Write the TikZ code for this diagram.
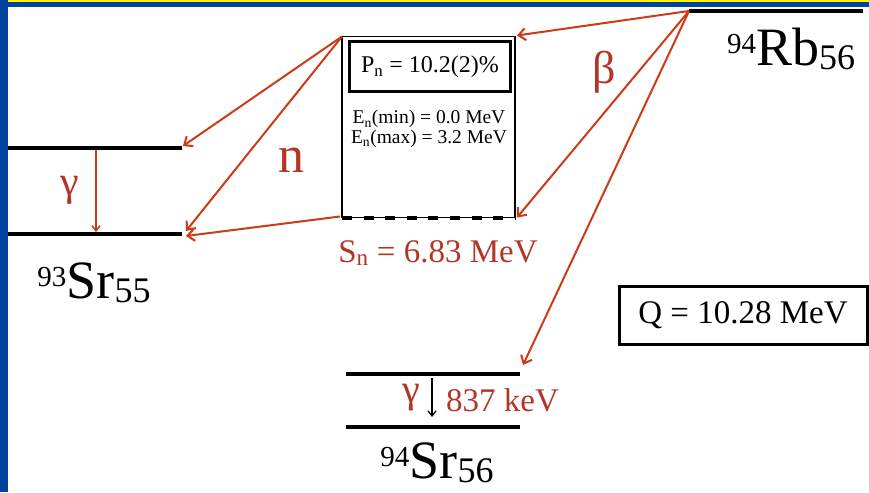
\documentclass[tikz,border=0pt]{standalone}
\usepackage{fontspec}
\setmainfont{Liberation Serif}
\usetikzlibrary{arrows.meta, positioning, calc}
\definecolor{frameblue}{RGB}{0, 66, 158}
\definecolor{frameyellow}{RGB}{255, 242, 0}
\definecolor{decay}{RGB}{205, 58, 22}
\definecolor{decaytext}{RGB}{178, 54, 40}
\newcommand{\nucl}[3]{%
  \raisebox{12pt}{\fontsize{29}{30}\selectfont #1}%
  {\fontsize{54}{56}\selectfont #2}%
  \raisebox{-4pt}{\fontsize{36}{36}\selectfont #3}}
\tikzset{
  level/.style={
    fill=black, inner sep=0pt, outer sep=0pt,
    minimum width=174pt, minimum height=4pt
  },
  decayarrow/.style={-{Straight Barb[length=7pt, width=12pt, line width=2pt]},
                     line width=2pt, decay},
  gammaarrow/.style={-{Straight Barb[length=5pt, width=8pt]}, line width=1.6pt},
  redlabel/.style={text=decaytext, inner sep=0pt},
  nuclabel/.style={inner sep=0pt, anchor=base},
  valuebox/.style={draw, line width=3pt, inner sep=0pt},
}

\begin{document}
\begin{tikzpicture}[x=1pt, y=-1pt]
  \useasboundingbox (0,0) rectangle (869,492);

  % ============ SLIDE FRAME ============
  \fill[frameblue] (0,0) rectangle (7.5,492);
  \fill[frameblue] (7.5,2) rectangle (869,7.5);
  \fill[frameyellow] (7.5,0) rectangle (869,2);

  % ============ LEVELS ============
  \node[level] (rbgs)  at (776,11)  {};
  \node[level] (sr93ex) at (95,148) {};
  \node[level] (sr93gs) at (95,234) {};
  \node[level] (sr94ex) at (433,374) {};
  \node[level] (sr94gs) at (433,427) {};

  \node[nuclabel] (rblab)   at (791,66)  {\nucl{94}{Rb}{56}};
  \node[nuclabel] (sr93lab) at (94,298)  {\nucl{93}{Sr}{55}};
  \node[nuclabel] (sr94lab) at (437,478) {\nucl{94}{Sr}{56}};

  % ============ NEUTRON WINDOW ============
  \node[draw, line width=1.6pt, inner sep=0pt, outer sep=0pt,
        minimum width=173pt, minimum height=181pt] (window) at (428.5,127) {};
  \draw[line width=4pt, dash pattern=on 10pt off 11.6pt]
    (window.south west) -- (window.south east);

  \node[valuebox, minimum width=161pt, minimum height=50pt] (pnbox) at (430,67)
    {\fontsize{24}{26}\selectfont P\textsubscript{n} = 10.2(2)\%};
  \node[align=center, inner sep=0pt, font=\fontsize{19.5}{19.5}\selectfont]
    (enrange) at (429,129)
    {E\textsubscript{n}(min) = 0.0 MeV\\E\textsubscript{n}(max) = 3.2 MeV};
  \node[redlabel, font=\fontsize{33}{34}\selectfont] (snlab) at (438,253)
    {S\textsubscript{n} = 6.83 MeV};

  % ============ Q VALUE ============
  \node[valuebox, minimum width=248pt, minimum height=58pt] (qbox) at (743,315)
    {\fontsize{33}{34}\selectfont Q = 10.28 MeV};

  % ============ BETA DECAY ============
  \draw[decayarrow] (rbgs.west) -- ($(window.north east)+(2,-1)$);
  \draw[decayarrow] (rbgs.west) -- ($(window.south east)+(2,0)$);
  \draw[decayarrow] (rbgs.west) -- ($(sr94ex.east)+(3,-9)$);
  \node[redlabel, font=\fontsize{46}{48}\selectfont] (betalab) at (604,72) {β};

  % ============ NEUTRON EMISSION ============
  \draw[decayarrow] (window.north west) -- ($(sr93ex.east)+(1,-2)$);
  \draw[decayarrow] (window.north west) -- ($(sr93gs.east)+(4,-3)$);
  \draw[decayarrow] ($(window.south west)+(-2,-1)$) -- ($(sr93gs.east)+(4,2)$);
  \node[redlabel, font=\fontsize{52}{54}\selectfont] (nlab) at (291,160) {n};

  % ============ GAMMA TRANSITIONS ============
  \draw[gammaarrow, decay] (sr93ex.south -| 96,0) -- (sr93gs.north -| 96,0);
  \node[redlabel, font=\fontsize{42}{44}\selectfont] (g93lab) at (70,190) {γ};

  \draw[gammaarrow, black, line width=1.3pt]
    ($(sr94ex.south)+(-1,2)$) -- ($(sr94gs.north)+(-1,-8)$);
  \node[redlabel, font=\fontsize{40}{42}\selectfont] (g94lab) at (411,398) {γ};
  \node[redlabel, font=\fontsize{33}{34}\selectfont, anchor=west]
    (g94e) at (446,400) {837 keV};

\end{tikzpicture}
\end{document}
